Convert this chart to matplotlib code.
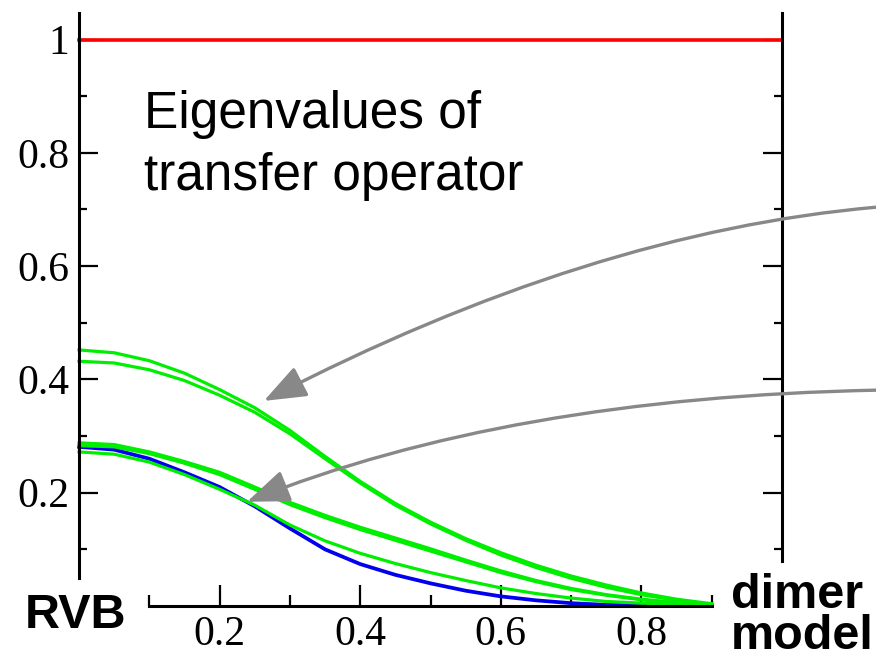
import matplotlib
matplotlib.use('Agg')
import matplotlib.pyplot as plt
from matplotlib.patches import FancyArrowPatch
from matplotlib.path import Path

plt.rcParams['font.family'] = 'Liberation Serif'

# coupling parameter (RVB -> dimer model)
x = [0.0, 0.05, 0.1, 0.15, 0.2, 0.25, 0.3, 0.35, 0.4, 0.45,
     0.5, 0.55, 0.6, 0.65, 0.7, 0.75, 0.8, 0.85, 0.9]

# eigenvalues of the transfer operator
ev_top = [0.452, 0.447, 0.433, 0.411, 0.382, 0.350, 0.310, 0.264, 0.220, 0.181,
          0.148, 0.119, 0.094, 0.072, 0.053, 0.037, 0.023, 0.012, 0.004]
ev_second = [0.432, 0.429, 0.417, 0.398, 0.372, 0.342, 0.304, 0.260, 0.217, 0.178,
             0.145, 0.116, 0.090, 0.068, 0.049, 0.033, 0.020, 0.010, 0.003]
ev_mid1 = [0.288, 0.285, 0.272, 0.255, 0.236, 0.210, 0.183, 0.160, 0.139, 0.120,
           0.101, 0.081, 0.062, 0.045, 0.031, 0.020, 0.012, 0.006, 0.003]
ev_mid2 = [0.283, 0.281, 0.269, 0.252, 0.232, 0.206, 0.179, 0.156, 0.135, 0.116,
           0.097, 0.078, 0.059, 0.043, 0.029, 0.019, 0.011, 0.005, 0.002]
ev_low = [0.272, 0.268, 0.254, 0.232, 0.206, 0.178, 0.143, 0.115, 0.093, 0.075,
          0.059, 0.045, 0.032, 0.022, 0.014, 0.008, 0.005, 0.003, 0.002]
ev_blue = [0.281, 0.276, 0.260, 0.236, 0.210, 0.176, 0.137, 0.100, 0.074, 0.055,
           0.040, 0.027, 0.017, 0.010, 0.005, 0.002, 0.001, 0.000, 0.000]

red_x = [0.0, 1.0]
red_y = [1.0, 1.0]

yticks = [0.2, 0.4, 0.6, 0.8, 1.0]
ytick_labels = ['0.2', '0.4', '0.6', '0.8', '1']
xticks = [0.2, 0.4, 0.6, 0.8]
xtick_labels = ['0.2', '0.4', '0.6', '0.8']
minor_ticks = [0.1, 0.3, 0.5, 0.7, 0.9]

fig = plt.figure(figsize=(8.76, 6.58), dpi=100)
ax = fig.add_axes([79 / 876, 52 / 658, 703 / 876, 1.046 * 566.5 / 658])

ax.plot(red_x, red_y, color='#ff0000', lw=2.6, clip_on=False)
for ev in [ev_top, ev_second, ev_mid1, ev_mid2, ev_low]:
    ax.plot(x, ev, color='#00ee00', lw=2.3, clip_on=False)
ax.plot(x, ev_blue, color='#0000ee', lw=2.7, clip_on=False, zorder=1.9)

# curved grey arrows coming from the right
arrows = [
    [(1.134, 0.704), (0.727, 0.660), (0.263, 0.362)],
    [(1.134, 0.381), (0.610, 0.368), (0.239, 0.184)],
]
for verts in arrows:
    p = Path(verts, [Path.MOVETO, Path.CURVE3, Path.CURVE3])
    arr = FancyArrowPatch(path=p, arrowstyle='-|>,head_length=1.3,head_width=0.5',
                          mutation_scale=20, color='#888888', lw=2.4,
                          transform=ax.transData, clip_on=False, zorder=3)
    ax.add_patch(arr)

sans = 'Liberation Sans'
ax.text(0.092, 0.844, 'Eigenvalues of', family=sans, fontsize=37)
ax.text(0.092, 0.734, 'transfer operator', family=sans, fontsize=37)
ax.text(-0.077, -0.039, 'RVB', family=sans, fontsize=35, fontweight='bold',
        clip_on=False)
ax.text(0.927, -0.076, 'dimer\nmodel', family=sans, fontsize=35,
        fontweight='bold', va='baseline', linespacing=0.9, clip_on=False)

ax.spines['top'].set_visible(False)
for s in ['left', 'right', 'bottom']:
    ax.spines[s].set_linewidth(2.2)
ax.spines['left'].set_bounds(0.05, 1.046)
ax.spines['right'].set_bounds(0.08, 1.046)
ax.spines['bottom'].set_bounds(0.1, 0.9)

ax.yaxis.set_ticks_position('both')
ax.xaxis.set_ticks_position('bottom')
ax.set_yticks(yticks)
ax.set_yticklabels(ytick_labels)
ax.set_yticks(minor_ticks, minor=True)
ax.set_xticks(xticks)
ax.set_xticklabels(xtick_labels)
ax.set_xticks(minor_ticks, minor=True)
ax.tick_params(axis='y', which='major', direction='in', length=14, width=1.6,
               labelsize=30, pad=7)
ax.tick_params(axis='y', which='minor', direction='in', length=6, width=1.6)
ax.tick_params(axis='x', which='major', direction='in', length=15, width=1.6,
               labelsize=30, pad=7)
ax.tick_params(axis='x', which='minor', direction='in', length=8, width=1.6)

ax.set_xlim(0, 1)
ax.set_ylim(0, 1.046)

fig.savefig('out.png', dpi=100)
